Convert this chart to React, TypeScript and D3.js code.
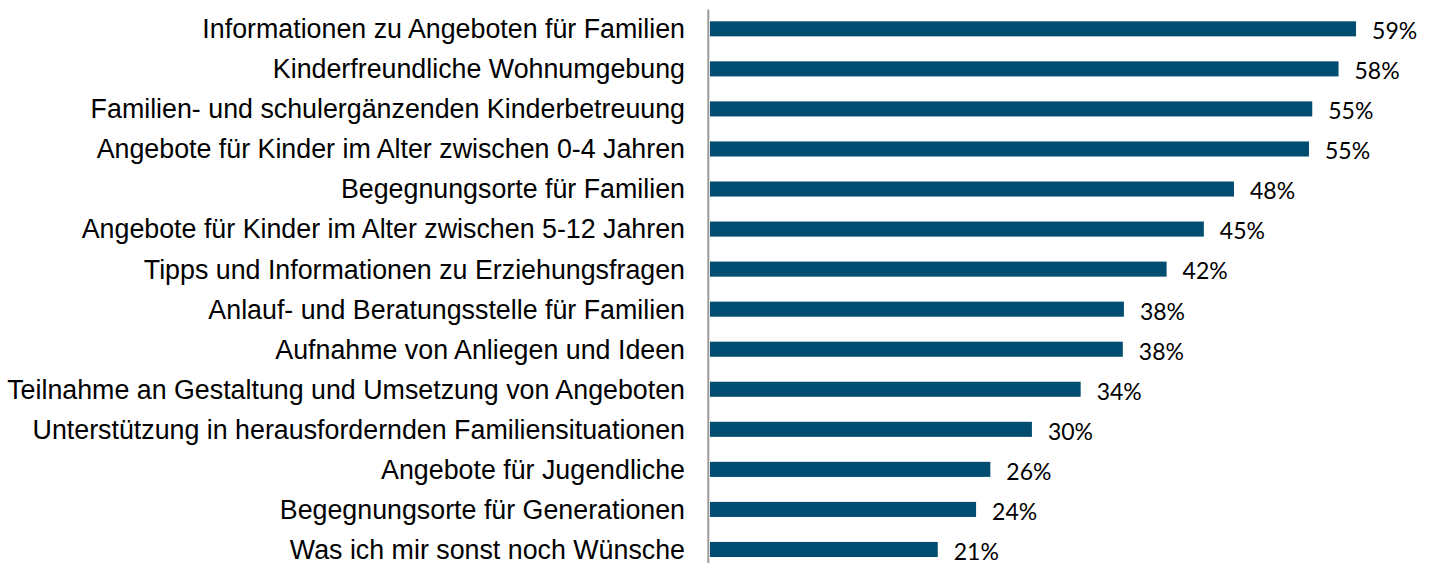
import React from "react";
import * as d3 from "d3";

const categories = [
  "Informationen zu Angeboten für Familien",
  "Kinderfreundliche Wohnumgebung",
  "Familien- und schulergänzenden Kinderbetreuung",
  "Angebote für Kinder im Alter zwischen 0-4 Jahren",
  "Begegnungsorte für Familien",
  "Angebote für Kinder im Alter zwischen 5-12 Jahren",
  "Tipps und Informationen zu Erziehungsfragen",
  "Anlauf- und Beratungsstelle für Familien",
  "Aufnahme von Anliegen und Ideen",
  "Teilnahme an Gestaltung und Umsetzung von Angeboten",
  "Unterstützung in herausfordernden Familiensituationen",
  "Angebote für Jugendliche",
  "Begegnungsorte für Generationen",
  "Was ich mir sonst noch Wünsche",
];

const values = [59.0, 57.4, 55.0, 54.7, 47.85, 45.1, 41.7, 37.8, 37.7, 33.85, 29.4, 25.6, 24.3, 20.8];
const valueLabels = ["59%", "58%", "55%", "55%", "48%", "45%", "42%", "38%", "38%", "34%", "30%", "26%", "24%", "21%"];

const W = 1435;
const H = 563;

export default function App() {
  const x = d3.scaleLinear().domain([0, 100]).range([710, 710 + 1095]);
  const y = d3
    .scaleBand<string>()
    .domain(categories)
    .range([8.8, 8.8 + 14 * 40.05])
    .paddingInner(0.624)
    .paddingOuter(0.312);
  const bw = y.bandwidth();

  return (
    <svg
      width={W}
      height={H}
      style={{ position: "absolute", left: 0, top: 0, background: "#fff" }}
    >
      {categories.map((c, i) => {
        const yy = y(c)!;
        return (
          <g key={c}>
            <rect x={x(0)} y={yy} width={x(values[i]) - x(0)} height={bw} fill="#004d71" />
            <text
              x={685}
              y={yy + bw / 2}
              dy="0.35em"
              textAnchor="end"
              fontFamily="'Liberation Sans', Arial, sans-serif"
              fontSize={26.8}
              fill="#000"
            >
              {c}
            </text>
            <text
              x={x(values[i]) + 16}
              y={yy + bw / 2}
              dy="0.45em"
              fontFamily="Lato, 'Open Sans', sans-serif"
              fontSize={23}
              fill="#000"
            >
              {valueLabels[i]}
            </text>
          </g>
        );
      })}
      <line x1={708.3} x2={708.3} y1={9.5} y2={H} stroke="#9a9a9a" strokeWidth={2} />
    </svg>
  );
}
